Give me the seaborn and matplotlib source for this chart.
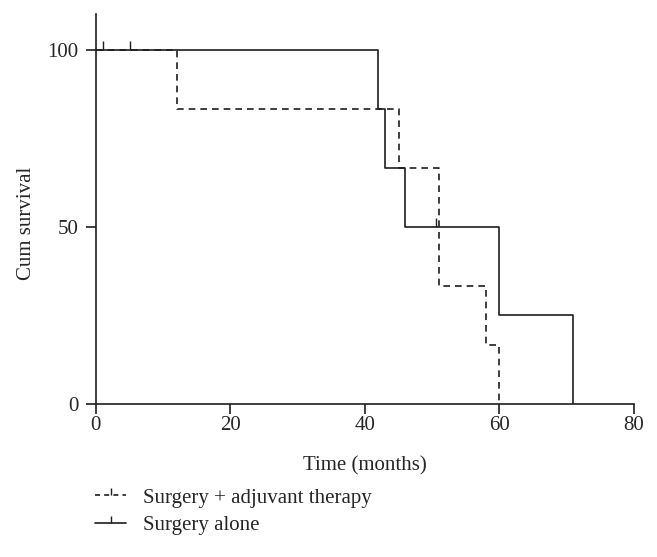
import numpy as np
import pandas as pd
import matplotlib
matplotlib.use('Agg')
import matplotlib.pyplot as plt
from matplotlib.lines import Line2D
import seaborn as sns

# Kaplan-Meier steps
adj_time = [0, 12, 45, 51, 58, 60]
adj_surv = [100, 83.3, 66.7, 33.3, 16.7, 0]
adj_cens_time = [1, 5]
adj_cens_surv = [100, 100]

alone_time = [0, 42, 43, 46, 60, 71]
alone_surv = [100, 83.3, 66.7, 50, 25, 0]
alone_cens_time = [50.5]
alone_cens_surv = [50]

labels = ['Surgery + adjuvant therapy', 'Surgery alone']

sns.set_style('ticks')
plt.rcParams['font.family'] = ['Liberation Serif', 'DejaVu Serif']

ink = '#1e1e1e'
fig = plt.figure(figsize=(6.57, 5.57), dpi=100)
ax = fig.add_axes([0.146, 0.2747, 0.819, 0.70])

df_adj = pd.DataFrame({'t': adj_time, 's': adj_surv})
df_alone = pd.DataFrame({'t': alone_time, 's': alone_surv})

sns.lineplot(data=df_adj, x='t', y='s', ax=ax, drawstyle='steps-post', color=ink,
             linewidth=1.2, linestyle=(0, (4, 3)), estimator=None, sort=False)
sns.lineplot(data=df_alone, x='t', y='s', ax=ax, drawstyle='steps-post', color=ink,
             linewidth=1.2, estimator=None, sort=False)

sns.scatterplot(x=adj_cens_time, y=adj_cens_surv, ax=ax, marker=2, s=40, color=ink, linewidth=1.0)
sns.scatterplot(x=alone_cens_time, y=alone_cens_surv, ax=ax, marker=2, s=40, color=ink, linewidth=1.0)

ax.set_xlim(0, 80)
ax.set_ylim(0, 110)
ax.set_xticks([0, 20, 40, 60, 80])
ax.set_yticks([0, 50, 100])
ax.set_xlabel('Time (months)', fontsize=15)
ax.set_ylabel('Cum survival', fontsize=15)
ax.xaxis.set_label_coords(0.5, -0.135)
ax.yaxis.set_label_coords(-0.112, 0.464)
ax.tick_params(labelsize=15, width=1.2, length=7.5, color=ink)
ax.tick_params(axis='x', pad=1.5)
ax.tick_params(axis='y', pad=5)
ax.spines['right'].set_visible(False)
ax.spines['top'].set_visible(False)
for sp in ['left', 'bottom']:
    ax.spines[sp].set_linewidth(1.2)
    ax.spines[sp].set_color(ink)

handles = [
    Line2D([], [], color=ink, linewidth=1.2, linestyle=(0, (3, 2.5)), marker=2, markersize=5),
    Line2D([], [], color=ink, linewidth=1.2, marker=2, markersize=5),
]
fig.legend(handles, labels, loc='upper left', bbox_to_anchor=(0.1446, 0.124), frameon=False,
           fontsize=15, handlelength=1.5, handletextpad=0.8, labelspacing=0.37,
           borderpad=0, borderaxespad=0)

fig.savefig('out.png', dpi=100)
